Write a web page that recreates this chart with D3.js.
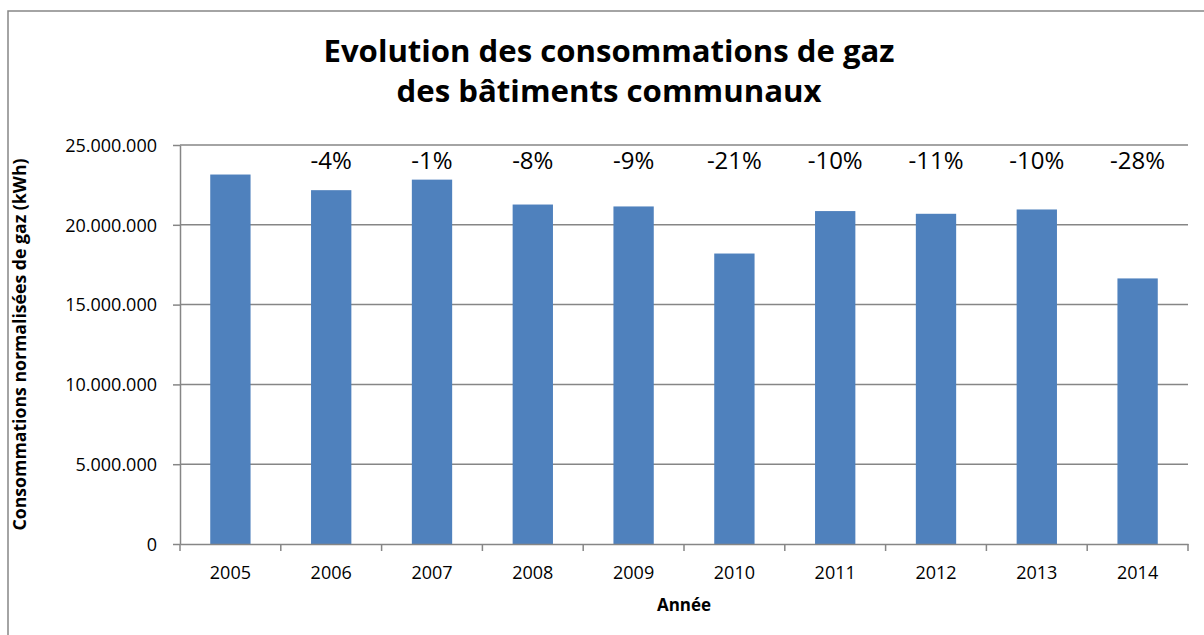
<!DOCTYPE html>
<meta charset="utf-8">
<style>
body { margin: 0; background: #fff; }
text { font-family: "Open Sans", "Noto Sans", sans-serif; fill: #000; }
.grid line { stroke: #868686; stroke-width: 1.5px; }
.axis line, .axis path { stroke: #868686; stroke-width: 1.5px; }
</style>
<svg width="1204" height="635"></svg>
<script src="https://cdn.jsdelivr.net/npm/d3@7"></script>
<script>

var years = ["2005", "2006", "2007", "2008", "2009", "2010", "2011", "2012", "2013", "2014"];
var conso = [23150000, 22170000, 22830000, 21270000, 21150000, 18200000, 20860000, 20690000, 20960000, 16640000];
var evol = ["", "-4%", "-1%", "-8%", "-9%", "-21%", "-10%", "-11%", "-10%", "-28%"];
var yTicks = [0, 5000000, 10000000, 15000000, 20000000, 25000000];

var svg = d3.select("svg");

var plotLeft = 180, plotRight = 1188, plotTop = 145, plotBottom = 544;

var x = d3.scaleBand().domain(years).range([plotLeft, plotRight]).padding(0);
var y = d3.scaleLinear().domain([0, 25000000]).range([plotBottom, plotTop]);

var fr = d3.formatLocale({decimal: ",", thousands: ".", grouping: [3], currency: ["", ""]});
var fmt = fr.format(",");

// cadre du graphique
svg.append("rect")
    .attr("x", 8).attr("y", 11)
    .attr("width", 1400).attr("height", 800)
    .attr("fill", "#fff")
    .attr("stroke", "#868686")
    .attr("stroke-width", 1.5);

// titre
var title = svg.append("text")
    .attr("text-anchor", "middle")
    .style("font-size", "31px")
    .style("font-weight", "bold");
title.append("tspan").attr("x", 609).attr("y", 62)
    .attr("textLength", 571).attr("lengthAdjust", "spacingAndGlyphs")
    .text("Evolution des consommations de gaz");
title.append("tspan").attr("x", 609).attr("y", 102)
    .attr("textLength", 425).attr("lengthAdjust", "spacingAndGlyphs")
    .text("des bâtiments communaux");

// grille
svg.append("g").attr("class", "grid")
  .selectAll("line")
  .data(yTicks.filter(function(d) { return d > 0; }))
  .enter().append("line")
    .attr("x1", plotLeft).attr("x2", plotRight)
    .attr("y1", function(d) { return y(d); })
    .attr("y2", function(d) { return y(d); });

// barres
svg.append("g")
  .selectAll("rect")
  .data(years)
  .enter().append("rect")
    .attr("x", function(d) { return x(d) + x.bandwidth() * 0.3; })
    .attr("width", x.bandwidth() * 0.4)
    .attr("y", function(d, i) { return y(conso[i]); })
    .attr("height", function(d, i) { return y(0) - y(conso[i]); })
    .attr("fill", "#4f81bd");

// axe y
var yAxis = svg.append("g").attr("class", "axis")
    .attr("transform", "translate(" + plotLeft + ",0)")
    .call(d3.axisLeft(y).tickValues(yTicks).tickFormat(fmt).tickSizeInner(7).tickSizeOuter(0).tickPadding(16));
yAxis.selectAll("text").style("font-size", "18px").attr("dy", "0.35em");

// axe x
var xAxis = svg.append("g").attr("class", "axis")
    .attr("transform", "translate(0," + plotBottom + ")")
    .call(d3.axisBottom(x).tickSize(0).tickPadding(29));
xAxis.selectAll("text").style("font-size", "18px").attr("dy", "0.35em");
xAxis.selectAll(".sep")
  .data(years.map(function(d) { return x(d); }).concat([plotRight]))
  .enter().append("line")
    .attr("class", "sep")
    .attr("x1", function(d) { return d; }).attr("x2", function(d) { return d; })
    .attr("y1", 0).attr("y2", 7);

// pourcentages
svg.append("g")
  .selectAll("text")
  .data(years)
  .enter().append("text")
    .attr("x", function(d) { return x(d) + x.bandwidth() / 2; })
    .attr("y", 161)
    .attr("dy", "0.35em")
    .attr("text-anchor", "middle")
    .style("font-size", "24px")
    .text(function(d, i) { return evol[i]; });

// titres des axes
svg.append("text")
    .attr("transform", "translate(20," + ((plotTop + plotBottom) / 2) + ") rotate(-90)")
    .attr("text-anchor", "middle")
    .attr("dy", "0.35em")
    .attr("textLength", 372).attr("lengthAdjust", "spacingAndGlyphs")
    .style("font-size", "17px")
    .style("font-weight", "bold")
    .text("Consommations normalisées de gaz (kWh)");

svg.append("text")
    .attr("x", (plotLeft + plotRight) / 2)
    .attr("y", 605)
    .attr("dy", "0.35em")
    .attr("text-anchor", "middle")
    .style("font-size", "17px")
    .style("font-weight", "bold")
    .text("Année");

</script>
